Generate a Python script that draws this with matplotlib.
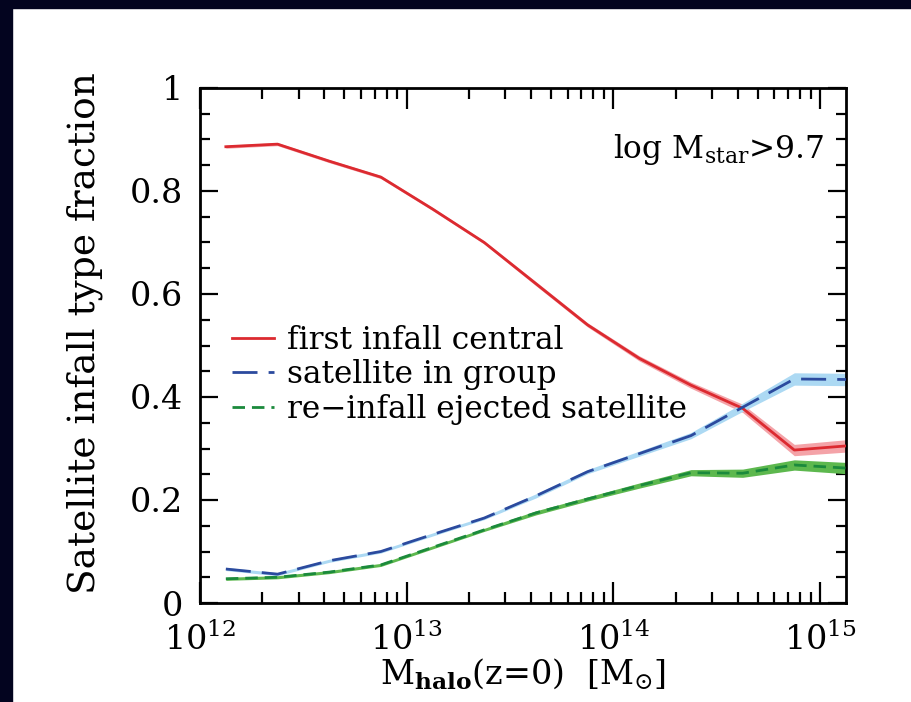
import numpy as np
import matplotlib
matplotlib.use("Agg")
import matplotlib.pyplot as plt
from matplotlib.patches import Rectangle
from matplotlib.ticker import FixedLocator, LogLocator, NullFormatter, FixedFormatter

plt.rcParams['font.family'] = ['DejaVu Serif']
plt.rcParams['mathtext.fontset'] = 'dejavuserif'

# data: log10 halo mass bin centres
log_mhalo = [12.125, 12.375, 12.625, 12.875, 13.125, 13.375, 13.625,
             13.875, 14.125, 14.375, 14.625, 14.875, 15.125]
first_infall = [0.886, 0.891, 0.858, 0.827, 0.765, 0.700, 0.620,
                0.540, 0.475, 0.423, 0.378, 0.297, 0.305]
first_err = [0.003, 0.003, 0.003, 0.003, 0.003, 0.003, 0.004,
             0.004, 0.005, 0.006, 0.008, 0.011, 0.012]
sat_group = [0.066, 0.056, 0.082, 0.100, 0.133, 0.165, 0.208,
             0.255, 0.290, 0.325, 0.380, 0.435, 0.434]
sat_err = [0.003, 0.003, 0.003, 0.003, 0.003, 0.003, 0.004,
           0.004, 0.005, 0.006, 0.008, 0.012, 0.012]
reinfall = [0.047, 0.050, 0.060, 0.074, 0.108, 0.142, 0.175,
            0.202, 0.228, 0.253, 0.252, 0.268, 0.262]
re_err = [0.003, 0.003, 0.003, 0.003, 0.003, 0.003, 0.004,
          0.004, 0.005, 0.006, 0.008, 0.010, 0.011]

labels = ["first infall central", "satellite in group", "re\u2212infall ejected satellite"]
yticks = [0, 0.2, 0.4, 0.6, 0.8, 1.0]
yticklabels = ["0", "0.2", "0.4", "0.6", "0.8", "1"]

x = 10 ** np.array(log_mhalo)

fig = plt.figure(figsize=(9.12, 7.02), dpi=100, facecolor='white')
# dark frame strips (left and top)
navy = '#03041f'
fig.patches.append(Rectangle((0, 0), 12 / 912, 1, transform=fig.transFigure, color=navy, zorder=-10))
fig.patches.append(Rectangle((0, 1 - 8 / 702), 1, 8 / 702, transform=fig.transFigure, color=navy, zorder=-10))

ax = fig.add_axes([200 / 912, 1 - 603 / 702, 646 / 912, 515 / 702])
ax.set_xscale('log')
ax.set_xlim(1e12, 10 ** 15.125)
ax.set_ylim(0, 1)

def band(y, e, color):
    y = np.array(y); e = np.array(e)
    ax.fill_between(x, y - e, y + e, color=color, lw=0, zorder=2)

band(first_infall, first_err, '#f4a3a8')
band(sat_group, sat_err, '#acd9f3')
band(reinfall, re_err, '#5db84e')

l1, = ax.plot(x, first_infall, color='#dc2a30', lw=2.0, zorder=3, label=labels[0])
l2, = ax.plot(x, sat_group, color='#2b4a9e', lw=2.0, zorder=3, dashes=(9, 4), label=labels[1])
l3, = ax.plot(x, reinfall, color='#1b8a3c', lw=2.0, zorder=3, dashes=(4.5, 2.5), label=labels[2])

ax.legend(handles=[l1, l2, l3], loc='upper left', bbox_to_anchor=(0.03, 0.565),
          frameon=False, fontsize=22.5, handlelength=1.35, handletextpad=0.4,
          labelspacing=0.12, borderaxespad=0)

ax.text(0.64, 0.88, r"log M$_{\rm star}$>9.7", transform=ax.transAxes,
        fontsize=22.5, ha='left', va='center')

ax.xaxis.set_major_locator(FixedLocator([1e12, 1e13, 1e14, 1e15]))
ax.xaxis.set_major_formatter(FixedFormatter([r"$10^{12}$", r"$10^{13}$", r"$10^{14}$", r"$10^{15}$"]))
ax.xaxis.set_minor_locator(LogLocator(base=10, subs=np.arange(2, 10)))
ax.xaxis.set_minor_formatter(NullFormatter())
ax.set_yticks(yticks)
ax.set_yticklabels(yticklabels)
ax.yaxis.set_minor_locator(FixedLocator(np.arange(0.05, 1.0, 0.05)))

ax.tick_params(which='both', direction='in', top=True, right=True, labelsize=24, width=1.6, colors='black')
ax.tick_params(which='major', length=15)
ax.tick_params(which='minor', length=8)
ax.tick_params(axis='y', which='major', length=13)
ax.tick_params(axis='y', which='minor', length=7)
ax.tick_params(axis='x', pad=14)
ax.tick_params(axis='y', pad=12)
for s in ax.spines.values():
    s.set_linewidth(2.0)

ax.set_ylabel("Satellite infall type fraction", fontsize=27)
ax.yaxis.set_label_coords(-0.15, 0.525)
ax.set_xlabel(r"M$_{\mathbf{halo}}$(z=0)  [M$_{\odot}$]", fontsize=24, labelpad=0)

fig.savefig("out.png", dpi=100, facecolor=fig.get_facecolor())
